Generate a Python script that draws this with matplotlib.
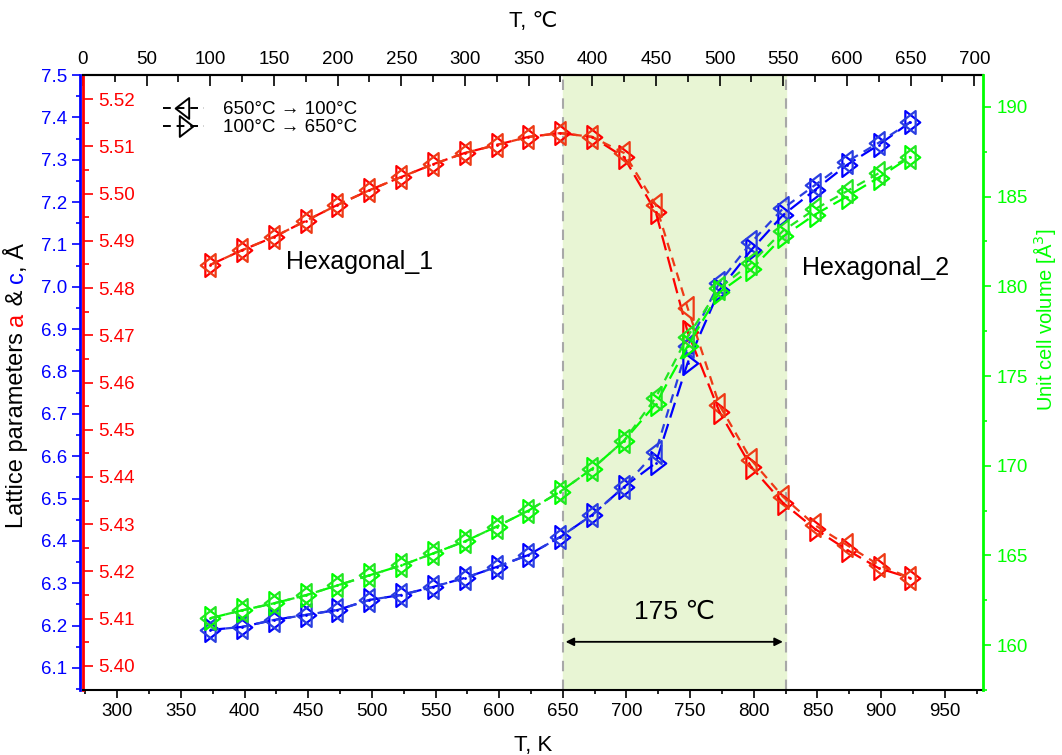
import numpy as np
import matplotlib.pyplot as plt
from matplotlib.lines import Line2D
from matplotlib.path import Path

plt.rcParams['font.family'] = ['Liberation Sans', 'DejaVu Sans']

# temperature steps (K), 100 C .. 650 C
T_K = [373, 398, 423, 448, 473, 498, 523, 548, 573, 598, 623, 648,
       673, 698, 723, 748, 773, 798, 823, 848, 873, 898, 923]

# lattice parameter a (red axis), heating / cooling
a_heat = [5.4849, 5.4880, 5.4908, 5.4942, 5.4976, 5.5007, 5.5035, 5.5062,
          5.5086, 5.5103, 5.5120, 5.5128, 5.5120, 5.5077, 5.4961, 5.4707,
          5.4538, 5.4421, 5.4345, 5.4290, 5.4246, 5.4207, 5.4186]
a_cool = [5.4849, 5.4880, 5.4908, 5.4942, 5.4976, 5.5007, 5.5035, 5.5062,
          5.5086, 5.5103, 5.5120, 5.5128, 5.5120, 5.5086, 5.4976, 5.4758,
          5.4552, 5.4436, 5.4358, 5.4298, 5.4256, 5.4214, 5.4186]

# lattice parameter c (blue axis)
c_heat = [6.1898, 6.1969, 6.2134, 6.2252, 6.2370, 6.2606, 6.2724, 6.2913,
          6.3126, 6.3385, 6.3669, 6.4093, 6.4613, 6.5274, 6.5840, 6.8201,
          6.9924, 7.0869, 7.1695, 7.2285, 7.2875, 7.3347, 7.3890]
c_cool = [6.1898, 6.1969, 6.2134, 6.2252, 6.2370, 6.2606, 6.2724, 6.2913,
          6.3126, 6.3385, 6.3669, 6.4093, 6.4613, 6.5274, 6.6100, 6.8600,
          7.0100, 7.1050, 7.1850, 7.2400, 7.2950, 7.3400, 7.3890]

# unit cell volume (green axis)
V_heat = [161.50, 161.94, 162.33, 162.78, 163.33, 163.89, 164.44, 165.11,
          165.78, 166.61, 167.50, 168.56, 169.83, 171.39, 173.44, 176.67,
          179.67, 180.94, 182.78, 184.00, 185.00, 186.06, 187.22]
V_cool = [161.50, 161.94, 162.33, 162.78, 163.33, 163.89, 164.44, 165.11,
          165.78, 166.61, 167.50, 168.56, 169.83, 171.39, 173.80, 177.20,
          179.90, 181.30, 183.10, 184.30, 185.30, 186.30, 187.22]

legend_labels = ['650°C → 100°C', '100°C → 650°C']

# open triangles with a vertical edge (Origin style)
tri_left = Path([(-0.85, 0), (0.45, 1), (0.45, -1), (-0.85, 0)],
                [Path.MOVETO, Path.LINETO, Path.LINETO, Path.CLOSEPOLY])
tri_right = Path([(0.85, 0), (-0.45, 1), (-0.45, -1), (0.85, 0)],
                 [Path.MOVETO, Path.LINETO, Path.LINETO, Path.CLOSEPOLY])

fig = plt.figure(figsize=(10.62, 7.55), dpi=100)
ax = fig.add_axes([83 / 1062, 1 - 690 / 755, 900 / 1062, 615 / 755])

ax.set_xlim(273.15, 980)
ax.set_ylim(5.3949, 5.5251)

# transition region
ax.axvspan(650, 825, color='#e8f5d4', zorder=0)
for xv in (650, 825):
    ax.axvline(xv, color='#a8a8a8', ls=(0, (5, 4)), lw=1.5, zorder=1)

mkw = dict(mfc='none', ms=16.5, mew=1.6, lw=1.6)


def draw(axis, y_h, y_c, col_h, col_c):
    axis.plot(T_K, y_h, color=col_h, marker=tri_right, ls=(0, (7, 3)), **mkw)
    axis.plot(T_K, y_c, color=col_c, marker=tri_left, ls=(0, (4, 3)), **mkw)
    axis.plot(T_K, y_h, color=col_h, marker='.', ms=2, ls='none')


draw(ax, a_heat, a_cool, '#ff0000', '#ee3a16')

# red axis: ticks inside, labels inside
ax.set_yticks(np.arange(5.40, 5.521, 0.01))
ax.set_yticks(np.arange(5.395, 5.525, 0.005), minor=True)
ax.yaxis.set_major_formatter(plt.FormatStrFormatter('%.2f'))
ax.tick_params(axis='y', which='major', direction='in', length=7, width=1.2,
               colors='red', labelsize=13.5, pad=-11)
ax.tick_params(axis='y', which='minor', direction='in', length=4, width=1.2,
               colors='red')
for t in ax.get_yticklabels():
    t.set_horizontalalignment('left')
ax.spines['left'].set_color('red')
ax.spines['left'].set_linewidth(2)
ax.spines['right'].set_visible(False)

# bottom axis in K
ax.set_xticks(np.arange(300, 951, 50))
ax.set_xticks(np.arange(275, 980, 25), minor=True)
ax.tick_params(axis='x', which='major', direction='out', length=6, width=1.2,
               labelsize=13.5)
ax.tick_params(axis='x', which='minor', direction='out', length=3, width=1.2)
ax.set_xlabel('T, K', fontsize=16, labelpad=11)
ax.spines['bottom'].set_linewidth(1.5)
ax.spines['top'].set_linewidth(1.5)

# top axis in C
top = ax.secondary_xaxis('top', functions=(lambda k: k - 273.15,
                                           lambda c: c + 273.15))
top.set_xticks(np.arange(0, 701, 50))
top.set_xticks(np.arange(0, 710, 25), minor=True)
top.tick_params(axis='x', which='major', direction='in', length=8, width=1.2,
                labelsize=13.5, pad=5)
top.tick_params(axis='x', which='minor', direction='in', length=5, width=1.2)
top.set_xlabel('T, ℃', fontsize=16, labelpad=17)
top.spines['top'].set_linewidth(1.5)

# blue axis (c)
ax_c = ax.twinx()
ax_c.set_ylim(6.048, 7.5)
draw(ax_c, c_heat, c_cool, '#0000ff', '#2a3ee0')
ax_c.yaxis.tick_left()
ax_c.spines['left'].set_position(('outward', 2.2))
ax_c.spines['left'].set_color('blue')
ax_c.spines['left'].set_linewidth(2)
for s in ('right', 'top', 'bottom'):
    ax_c.spines[s].set_visible(False)
ax_c.set_yticks(np.arange(6.1, 7.51, 0.1))
ax_c.set_yticks(np.arange(6.05, 7.5, 0.05), minor=True)
ax_c.yaxis.set_major_formatter(plt.FormatStrFormatter('%.1f'))
ax_c.tick_params(axis='y', which='major', direction='out', length=6, width=1.2,
                 colors='blue', labelsize=13.5, pad=3)
ax_c.tick_params(axis='y', which='minor', direction='out', length=3, width=1.2,
                 colors='blue')

# green axis (volume)
ax_v = ax.twinx()
ax_v.set_ylim(157.6, 191.78)
draw(ax_v, V_heat, V_cool, '#00ff00', '#22e622')
for s in ('left', 'top', 'bottom'):
    ax_v.spines[s].set_visible(False)
ax_v.spines['right'].set_color('#00ff00')
ax_v.spines['right'].set_linewidth(2)
ax_v.set_yticks(np.arange(160, 191, 5))
ax_v.set_yticks(np.arange(157.5, 191, 2.5), minor=True)
ax_v.tick_params(axis='y', which='major', direction='out', length=6, width=1.2,
                 colors='#00ff00', labelsize=13.5, pad=4)
ax_v.tick_params(axis='y', which='minor', direction='out', length=3, width=1.2,
                 colors='#00ff00')

fig.text(1045 / 1062, 1 - 320 / 755, 'Unit cell volume [Å$^3$]', color='#00ff00',
         rotation=90, ha='center', va='center', fontsize=14.5)

# multicoloured left label, pieces chained bottom to top
pieces = [('Lattice parameters ', 'black'), ('a', 'red'), (' & ', 'black'),
          ('c', 'blue'), (', Å', 'black')]
prev = fig.text(17 / 1062, 1 - 528 / 755, pieces[0][0], rotation=90,
                ha='center', va='bottom', fontsize=17)
for txt, col in pieces[1:]:
    prev = ax.annotate(txt, xy=(0.5, 1), xycoords=prev, ha='center', va='bottom',
                       rotation=90, fontsize=17, color=col,
                       annotation_clip=False)

# annotations
ax.text(490, 5.4855, 'Hexagonal_1', fontsize=18, ha='center', va='center')
ax.text(896, 5.4842, 'Hexagonal_2', fontsize=18, ha='center', va='center')
ax.annotate('', xy=(650, 5.4051), xytext=(825, 5.4051),
            arrowprops=dict(arrowstyle='<|-|>', color='black', lw=1.3,
                            mutation_scale=12))
ax.text(737.5, 5.4114, '175 ℃', fontsize=19, ha='center', va='center')

handles = [Line2D([], [], color='black', marker=tri_left, ls=(0, (4, 3)),
                  mfc='none', ms=15, mew=1.4, lw=1.4),
           Line2D([], [], color='black', marker=tri_right, ls=(0, (4, 3)),
                  mfc='none', ms=15, mew=1.4, lw=1.4)]
ax_v.legend(handles, legend_labels, loc='upper left',
            bbox_to_anchor=(0.07, 0.985), frameon=False, fontsize=13.5,
            handlelength=2.2, handletextpad=1.0, labelspacing=0.05)

fig.savefig('out.png', dpi=100)
